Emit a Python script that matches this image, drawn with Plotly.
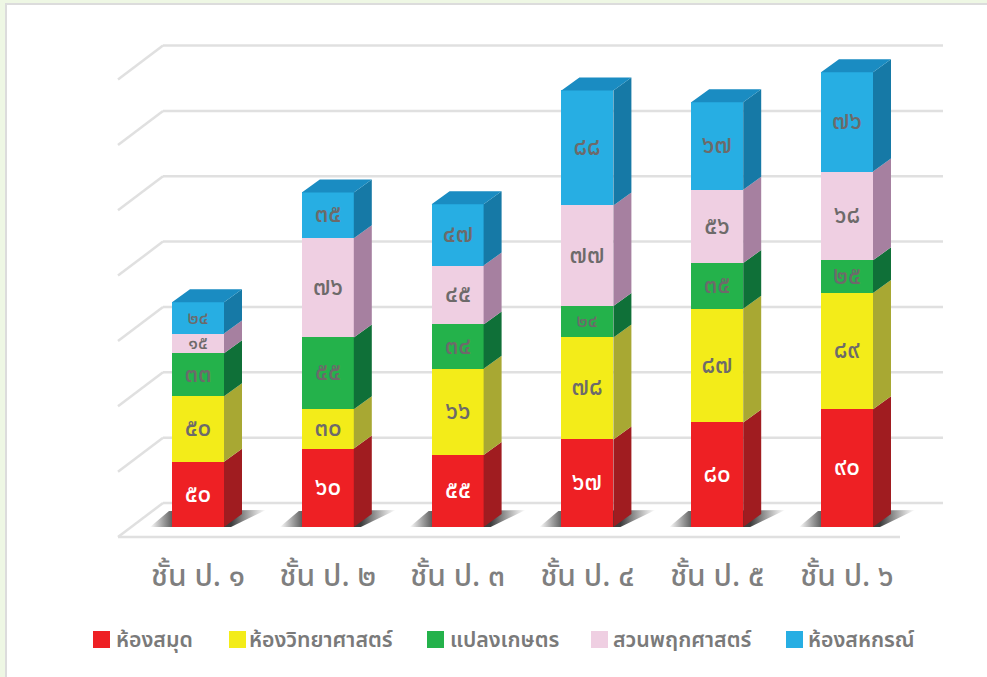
import plotly.graph_objects as go

categories = ["ชั้น ป. ๑", "ชั้น ป. ๒", "ชั้น ป. ๓", "ชั้น ป. ๔", "ชั้น ป. ๕", "ชั้น ป. ๖"]
library = [50, 60, 55, 67, 80, 90]
science = [50, 30, 66, 78, 87, 89]
plots = [33, 55, 34, 24, 35, 25]
garden = [15, 76, 45, 77, 56, 68]
coop = [24, 35, 47, 88, 67, 76]
names = ["ห้องสมุด", "ห้องวิทยาศาสตร์", "แปลงเกษตร", "สวนพฤกศาสตร์", "ห้องสหกรณ์"]
series = [library, science, plots, garden, coop]
grid_values = [0, 50, 100, 150, 200, 250, 300, 350]

front = ["#ee2024", "#f3ec19", "#24b24b", "#efcfe2", "#27aee3"]
side = ["#a01c20", "#a8a833", "#0f7038", "#a680a0", "#1679a6"]
top_color = "#1a8cc2"
label_color = ["#ffffff", "#6d6a6a", "#6d6a6a", "#6d6a6a", "#6d6a6a"]
FONT = "Noto Sans Thai, Sarabun, Noto Sans, Open Sans, sans-serif"
thai = str.maketrans("0123456789", "๐๑๒๓๔๕๖๗๘๙")

# pixel scale of the plot area
PX_X = 129.8   # px per category
PX_Y = 1.307   # px per value unit
L, R, T, B = 110, 37, 35, 136
x_range = [(L - 198) / PX_X, (987 - R - 198) / PX_X]
y_range = [(527 - (677 - B)) / PX_Y, (527 - T) / PX_Y]
def dx(px): return px / PX_X
def dy(px): return px / PX_Y

half = dx(26)
depth_x, depth_y = dx(18), dy(13)

fig = go.Figure()

# shadows
for i in range(len(categories)):
    xs = [i - half + dx(-22), i - half + dx(-3), i - half + dx(94), i - half + dx(59), i - half + dx(-22)]
    ys = [0, dy(16), dy(17), 0, 0]
    fig.add_trace(go.Scatter(
        x=xs, y=ys, mode="lines", line=dict(width=0), fill="toself", hoverinfo="skip", showlegend=False, zorder=0,
        fillgradient=dict(type="horizontal", colorscale=[
            [0, "rgba(50,50,50,0)"], [0.2, "rgba(60,60,60,0.85)"], [0.7, "rgba(50,50,50,0.95)"], [1, "rgba(90,90,90,0)"]]),
    ))

# bars
for k, vals in enumerate(series):
    fig.add_trace(go.Bar(
        x=list(range(len(categories))), y=vals, name=names[k], width=half * 2,
        marker=dict(color=front[k], line=dict(width=0)),
        text=[str(v).translate(thai) for v in vals], textposition="inside", insidetextanchor="middle",
        textangle=0, constraintext="none",
        textfont=dict(family=FONT, size=[24 if v > 24 else 18 for v in vals], color=label_color[k], weight=500),
        showlegend=False, zorder=1,
    ))

# side faces
base = [0] * len(categories)
for k, vals in enumerate(series):
    xs, ys = [], []
    for i, v in enumerate(vals):
        lo, hi = base[i], base[i] + v
        r = i + half
        xs += [r, r + depth_x, r + depth_x, r, r, None]
        ys += [lo, lo + depth_y, hi + depth_y, hi, lo, None]
        base[i] = hi
    fig.add_trace(go.Scatter(x=xs, y=ys, mode="lines", line=dict(width=0), fill="toself", fillcolor=side[k],
                             hoverinfo="skip", showlegend=False, zorder=2))

# top faces
xs, ys = [], []
for i, h in enumerate(base):
    xs += [i - half, i + half, i + half + depth_x, i - half + depth_x, i - half, None]
    ys += [h, h, h + depth_y, h + depth_y, h, None]
fig.add_trace(go.Scatter(x=xs, y=ys, mode="lines", line=dict(width=0), fill="toself", fillcolor=top_color,
                         hoverinfo="skip", showlegend=False, zorder=2))

# frame and walls
shapes = [dict(type="rect", xref="paper", yref="paper", layer="below",
               x0=(6 - L) / (987 - L - R), x1=1.2, y0=-0.5, y1=(677 - B - 4) / (677 - B - T),
               fillcolor="#ffffff", line=dict(color="#dcdcdc", width=2))]
grid_line = dict(color="#e0e0e0", width=2.5)
wall_x0, wall_x1, floor_x0, floor_x1 = dx(163 - 198), dx(943 - 198), dx(118 - 198), dx(900 - 198)
back_y, front_y = dy(24), dy(-10)
for g in grid_values:
    y_back = g + back_y
    y_front = g + front_y
    shapes.append(dict(type="line", layer="below", x0=wall_x0, x1=wall_x1, y0=y_back, y1=y_back, line=grid_line))
    shapes.append(dict(type="line", layer="below", x0=floor_x0, x1=wall_x0, y0=y_front, y1=y_back, line=grid_line))
shapes.append(dict(type="line", layer="below", x0=floor_x0, x1=floor_x1, y0=front_y, y1=front_y, line=grid_line))

# legend drawn as swatches + text
legend_swatch = [93, 229, 427, 591, 786]
legend_text = [114, 247, 448, 611, 806]
legend_y = 640
annotations = []
W, H = 987 - L - R, 677 - T - B
for k, n in enumerate(names):
    shapes.append(dict(type="rect", xref="paper", yref="paper",
                       x0=(legend_swatch[k] - L) / W, x1=(legend_swatch[k] + 17 - L) / W,
                       y0=(677 - B - (legend_y + 8)) / H, y1=(677 - B - (legend_y - 9)) / H,
                       fillcolor=front[k], line=dict(width=0)))
    annotations.append(dict(xref="paper", yref="paper", x=(legend_text[k] - L) / W, y=(677 - B - legend_y) / H,
                            text=n, showarrow=False, xanchor="left", yanchor="middle",
                            font=dict(family=FONT, size=21.3, color="#7a7a7a", weight=600)))

fig.update_layout(
    width=987, height=677, autosize=False,
    margin=dict(l=L, r=R, t=T, b=B),
    paper_bgcolor="#eef7e4", plot_bgcolor="rgba(0,0,0,0)",
    barmode="stack", bargap=0, showlegend=False,
    shapes=shapes, annotations=annotations,
    xaxis=dict(range=x_range, tickmode="array", tickvals=list(range(len(categories))), ticktext=categories,
               showgrid=False, zeroline=False, showline=False, ticks="", ticklabelstandoff=14,
               tickfont=dict(family=FONT, size=30, color="#7f7f7f", weight=500)),
    yaxis=dict(range=y_range, visible=False, showgrid=False, zeroline=False),
)
fig.write_html("out.html", config={"displayModeBar": False},
               post_script="document.body.style.margin='0';document.body.style.overflow='hidden';")
